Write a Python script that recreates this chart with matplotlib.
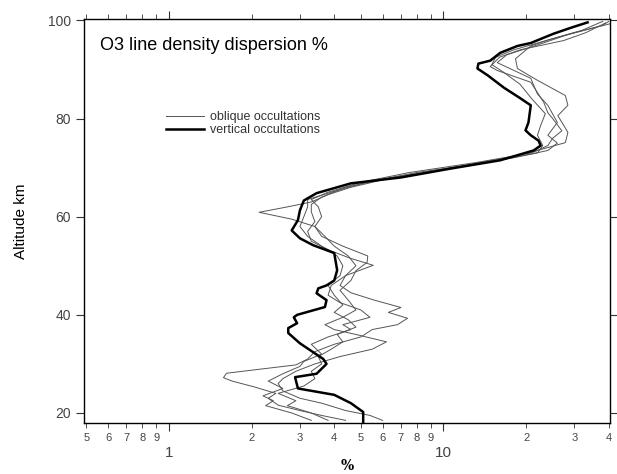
import numpy as np
import matplotlib
matplotlib.use("Agg")
import matplotlib.pyplot as plt
from matplotlib.ticker import LogLocator, FuncFormatter

# vertical occultations (thick line): altitude km, dispersion %
vert_alt = [18.2, 20.2, 22.0, 23.7, 25.0, 27.3, 28.0, 30.0, 31.0, 32.4, 34.2, 36.3,
            37.3, 38.3, 39.5, 40.0, 41.6, 43.0, 44.4, 45.4, 46.0, 47.0, 49.1, 52.6,
            54.2, 55.6, 57.2, 59.3, 61.3, 63.3, 64.8, 66.8, 68.0, 69.8, 71.5, 73.5,
            74.5, 75.5, 76.6, 77.6, 79.2, 82.7, 84.1, 86.3, 88.8, 90.2, 91.2, 91.8,
            93.4, 94.8, 95.4, 97.3, 98.5, 99.6]
vert_val = [5.1, 5.1, 4.6, 4.0, 2.95, 2.88, 3.45, 3.75, 3.65, 3.35, 3.0, 2.72,
            2.72, 2.93, 2.85, 2.93, 3.7, 3.75, 3.45, 3.5, 3.75, 4.0, 4.1, 4.0,
            3.35, 3.0, 2.8, 2.95, 3.0, 3.1, 3.45, 4.6, 7.0, 10.6, 16.1, 21.3,
            22.6, 22.2, 20.8, 19.9, 20.4, 20.8, 19.1, 16.6, 14.5, 13.3, 13.4, 14.8,
            16.1, 18.6, 20.8, 25.2, 29.1, 33.5]

# oblique occultations (thin lines)
obl1_alt = [18.5, 19.5, 20.5, 21.6, 23.0, 24.0, 25.3, 26.5, 27.2, 28.1, 29.0, 29.8,
            31.0, 32.5, 34.0, 35.5, 37.0, 38.0, 39.3, 40.5, 41.5, 43.0, 44.5, 46.0,
            48.0, 50.0, 52.0, 54.0, 56.0, 58.0, 59.5, 60.9, 62.0, 63.0, 64.5, 66.0,
            67.5, 69.0, 70.5, 72.0, 73.5, 75.1, 77.2, 80.6, 82.7, 84.7, 87.8, 90.2,
            92.2, 94.8, 96.0, 97.5, 99.4]
obl1_val = [4.4, 3.6, 3.0, 2.5, 2.3, 2.45, 2.05, 1.7, 1.58, 1.62, 2.2, 2.9,
            3.2, 3.4, 4.0, 5.0, 5.5, 6.8, 7.4, 6.3, 7.0, 5.6, 4.6, 4.2,
            4.4, 4.8, 4.5, 4.0, 3.7, 3.4, 2.8, 2.13, 2.7, 3.3, 3.8, 4.6,
            6.0, 8.5, 12.0, 17.0, 22.0, 27.8, 28.4, 26.1, 28.4, 27.8, 22.0, 18.6,
            18.3, 20.8, 24.0, 30.0, 41.0]

obl2_alt = [18.5, 20.0, 21.5, 22.5, 23.5, 25.0, 26.5, 28.0, 29.5, 30.5, 32.0, 34.0,
            35.5, 37.0, 38.0, 39.5, 41.0, 42.5, 44.0, 46.0, 48.0, 50.1, 51.5, 53.0,
            55.0, 57.0, 59.0, 61.0, 62.5, 64.0, 66.0, 68.0, 70.0, 72.0, 73.5, 75.0,
            76.6, 79.2, 82.7, 85.0, 88.2, 91.4, 93.0, 95.0, 97.0, 99.0, 99.8]
obl2_val = [3.3, 2.8, 2.25, 2.4, 2.2, 2.6, 2.3, 2.6, 3.0, 3.1, 3.6, 3.3,
            3.8, 4.6, 4.3, 5.4, 5.0, 4.2, 3.8, 3.9, 4.4, 5.55, 4.6, 3.9,
            3.3, 3.2, 3.4, 3.3, 3.3, 3.6, 4.4, 6.5, 11.0, 18.0, 24.0, 26.0,
            24.0, 26.0, 24.0, 22.0, 20.8, 15.7, 17.0, 22.0, 28.0, 38.0, 40.0]

obl3_alt = [18.5, 19.5, 20.5, 22.0, 23.0, 24.5, 26.0, 27.0, 28.5, 30.0, 31.5, 33.0,
            34.5, 36.0, 37.0, 38.0, 39.5, 41.0, 43.0, 45.0, 47.0, 49.0, 50.7, 52.0,
            54.0, 56.0, 58.0, 60.0, 62.0, 63.5, 65.0, 67.0, 69.0, 71.0, 73.0, 74.5,
            76.0, 77.5, 80.0, 81.2, 83.3, 87.4, 89.8, 90.6, 92.5, 94.0, 95.9, 97.5, 99.5]
obl3_val = [6.0, 5.4, 4.4, 3.6, 3.0, 2.6, 2.5, 2.6, 2.9, 3.4, 4.2, 5.5,
            6.2, 4.8, 4.0, 3.7, 4.3, 4.8, 4.5, 4.2, 4.6, 4.8, 5.27, 5.3,
            4.3, 3.6, 3.4, 3.6, 3.5, 3.3, 3.8, 5.0, 7.5, 13.0, 21.0, 24.0,
            25.0, 27.0, 25.0, 24.0, 23.2, 20.8, 15.7, 14.8, 16.0, 19.0, 27.4, 33.0, 39.0]

obl4_alt = [18.5, 20.0, 21.5, 22.5, 24.0, 25.5, 27.0, 28.5, 30.0, 31.5, 33.0, 34.5,
            36.0, 37.5, 39.0, 40.5, 42.0, 44.0, 46.0, 48.0, 50.0, 52.0, 54.0, 56.0,
            58.0, 60.0, 62.0, 63.5, 65.0, 67.0, 69.0, 71.0, 73.0, 74.5, 76.6, 78.6,
            81.0, 84.0, 87.0, 89.5, 91.0, 92.5, 94.0, 96.0, 98.0, 99.8]
obl4_val = [3.8, 3.3, 2.7, 2.9, 2.5, 3.1, 3.4, 3.3, 3.6, 3.5, 3.9, 4.3,
            4.1, 4.8, 4.5, 4.0, 4.3, 4.0, 3.8, 4.2, 4.3, 4.1, 3.6, 3.2,
            3.0, 3.1, 3.2, 3.2, 3.9, 5.2, 8.0, 14.0, 22.0, 23.0, 22.0, 22.6,
            23.5, 21.0, 19.0, 16.5, 15.0, 15.5, 18.0, 24.0, 32.0, 38.0]

oblique = [(obl1_alt, obl1_val), (obl2_alt, obl2_val),
           (obl3_alt, obl3_val), (obl4_alt, obl4_val)]

plt.rcParams['font.family'] = ['Liberation Sans', 'DejaVu Sans']

fig = plt.figure(figsize=(6.17, 4.74), dpi=100)
ax = fig.add_axes([0.136, 0.108, 0.853, 0.852])

for i, (a, v) in enumerate(oblique):
    ax.plot(v, a, color='#555555', lw=0.7,
            label='oblique occultations' if i == 0 else None)
ax.plot(vert_val, vert_alt, color='black', lw=1.8, label='vertical occultations')

ax.set_xscale('log')
ax.set_xlim(0.49, 40.5)
ax.set_ylim(18, 100.3)

ax.xaxis.set_major_locator(LogLocator(base=10, numticks=10))
ax.xaxis.set_minor_locator(LogLocator(base=10, subs=np.arange(2, 10), numticks=20))


def minor_label(v, pos):
    d = int(round(v / 10 ** np.floor(np.log10(v))))
    return str(d)


ax.xaxis.set_minor_formatter(FuncFormatter(minor_label))
ax.xaxis.set_major_formatter(FuncFormatter(lambda v, p: '%g' % v))

ax.tick_params(axis='x', which='both', top=True, direction='out', colors='#333333')
ax.tick_params(axis='x', which='minor', length=3.5, labelsize=8, pad=3.5)
ax.tick_params(axis='x', which='major', length=6, labelsize=11, pad=11)
ax.tick_params(axis='y', which='major', right=True, direction='out', length=6,
               labelsize=10, colors='#333333')
ax.set_yticks([20, 40, 60, 80, 100])
for lab in ax.get_xticklabels() + ax.get_yticklabels() + ax.get_xminorticklabels():
    lab.set_color('#444444')

ax.set_ylabel('Altitude km', fontsize=11, labelpad=14)
ax.set_xlabel('%', fontsize=10, family='DejaVu Serif', fontweight='bold', labelpad=-1)

ax.text(0.03, 0.955, 'O3 line density dispersion %', transform=ax.transAxes,
        fontsize=13, va='top', ha='left')

ax.legend(loc='upper left', bbox_to_anchor=(0.135, 0.80), frameon=False,
          fontsize=9, handlelength=3.0, handletextpad=0.5, labelspacing=0.1,
          labelcolor='#333333')

for s in ax.spines.values():
    s.set_linewidth(1.0)

fig.savefig('out.png', dpi=100)
